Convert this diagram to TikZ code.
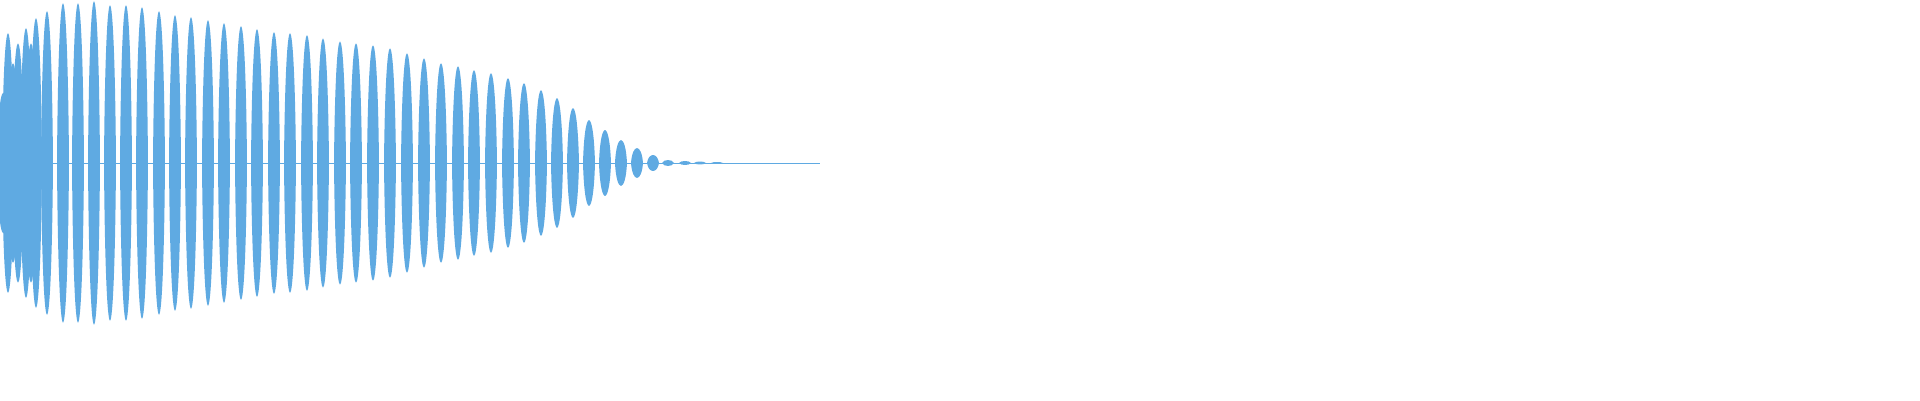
\documentclass[tikz,border=0pt]{standalone}
\usepackage{tikz}
\definecolor{wave}{RGB}{95,170,226}
\tikzset{lobe/.style={fill=wave,draw=none},
  axisline/.style={draw=wave,line width=0.8pt}}
\begin{document}
\begin{tikzpicture}[x=1pt,y=1pt]
	\useasboundingbox (0,0) rectangle (1920,400);
	\coordinate (start) at (0,237);
	\coordinate (stop) at (820,237);
	\draw [style=axisline] (start) to (stop);
	\foreach \px/\amp in {3/70,8/130,13/100,18/120,22/90,26/135,31/120,36/145,47/152,63/160,78/160,94/162,110/158,126/158,142/156,159/152,175/148,191/146,208/143,224/140,241/137,257/134,274/131,290/130,307/128,323/125,340/122,356/120,373/118,390/115,407/110,424/105,441/100,458/97,474/93,491/90,508/85,524/80,541/73,557/65,573/55,589/43,605/33,621/23,637/15,653/8,668/3,685/2,700/1.5,717/1}
		\fill [style=lobe] (\px-6,237) .. controls (\px-4.5,237+1.33*\amp) and (\px+4.5,237+1.33*\amp) .. (\px+6,237)
			.. controls (\px+4.5,237-1.33*\amp) and (\px-4.5,237-1.33*\amp) .. cycle;
\end{tikzpicture}
\end{document}
